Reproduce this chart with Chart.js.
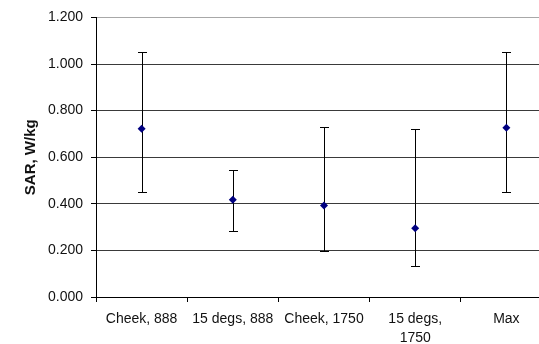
<!DOCTYPE html>
<html>
<head>
<meta charset="utf-8">
<script src="https://cdn.jsdelivr.net/npm/chart.js@4"></script>
<style>
    html, body { margin: 0; padding: 0; background: #fff; overflow: hidden; }
    #wrap { width: 539px; height: 344px; overflow: hidden; }
</style>
</head>
<body>
<div id="wrap"><canvas id="sarChart" width="560" height="344"></canvas></div>
<script>
// SAR values
const categories = ['Cheek, 888', '15 degs, 888', 'Cheek, 1750', ['15 degs,', '1750'], 'Max'];
const sarMean = [0.722, 0.417, 0.393, 0.295, 0.726];
const sarUpper = [1.052, 0.547, 0.730, 0.720, 1.052];
const sarLower = [0.451, 0.282, 0.196, 0.135, 0.451];
const yTicks = [0, 0.2, 0.4, 0.6, 0.8, 1.0, 1.2];

// Error bars drawn through the chart scales, behind the markers
const errorBars = {
    id: 'errorBars',
    beforeDatasetsDraw(chart) {
        const ctx = chart.ctx;
        const x = chart.scales.x;
        const y = chart.scales.y;
        const cap = 4.5;
        ctx.save();
        ctx.strokeStyle = '#000';
        ctx.lineWidth = 1;
        sarMean.forEach((v, i) => {
            const px = Math.round(x.getPixelForValue(i)) + 0.5;
            const top = Math.round(y.getPixelForValue(sarUpper[i])) + 0.5;
            const bot = Math.round(y.getPixelForValue(sarLower[i])) + 0.5;
            ctx.beginPath();
            ctx.moveTo(px, top);
            ctx.lineTo(px, bot);
            ctx.moveTo(px - cap, top);
            ctx.lineTo(px + cap, top);
            ctx.moveTo(px - cap, bot);
            ctx.lineTo(px + cap, bot);
            ctx.stroke();
        });
        ctx.restore();
    }
};

const labelFont = { family: 'Arial, "Liberation Sans", sans-serif', size: 14, lineHeight: 1.35 };

new Chart(document.getElementById('sarChart'), {
    type: 'line',
    data: {
        labels: categories,
        datasets: [{
            data: sarMean,
            showLine: false,
            pointStyle: 'rectRot',
            pointRadius: 4,
            pointHoverRadius: 4,
            backgroundColor: '#000080',
            borderColor: '#000080',
            borderWidth: 0
        }]
    },
    options: {
        responsive: false,
        animation: false,
        devicePixelRatio: 1,
        layout: { padding: { top: 16, right: 8, left: 0, bottom: 0 } },
        plugins: {
            legend: { display: false },
            tooltip: { enabled: false }
        },
        scales: {
            x: {
                offset: true,
                grid: {
                    offset: true,
                    drawOnChartArea: false,
                    tickLength: 5,
                    tickColor: '#000'
                },
                border: { color: '#000', width: 1 },
                ticks: {
                    color: '#111',
                    font: labelFont,
                    padding: 8,
                    maxRotation: 0,
                    autoSkip: false
                },
                afterFit(scale) { scale.height = 47; }
            },
            y: {
                min: 0,
                max: 1.2,
                afterBuildTicks(scale) {
                    scale.ticks = yTicks.map(v => ({ value: v }));
                },
                grid: {
                    color: ctx => (ctx.tick && ctx.tick.value === 1.2) ? '#a8a8a8' : '#3a3a3a',
                    tickLength: 5,
                    tickColor: '#000'
                },
                border: { color: '#000', width: 1 },
                ticks: {
                    color: '#111',
                    font: labelFont,
                    padding: 8,
                    callback: v => Number(v).toFixed(3)
                },
                title: {
                    display: true,
                    text: 'SAR, W/kg',
                    color: '#111',
                    font: { family: 'Arial, "Liberation Sans", sans-serif', size: 15, weight: 'bold', lineHeight: 1.2 },
                    padding: { top: 22, bottom: 0 }
                },
                afterFit(scale) { scale.width = 96; }
            }
        }
    },
    plugins: [errorBars]
});
</script>
</body>
</html>
